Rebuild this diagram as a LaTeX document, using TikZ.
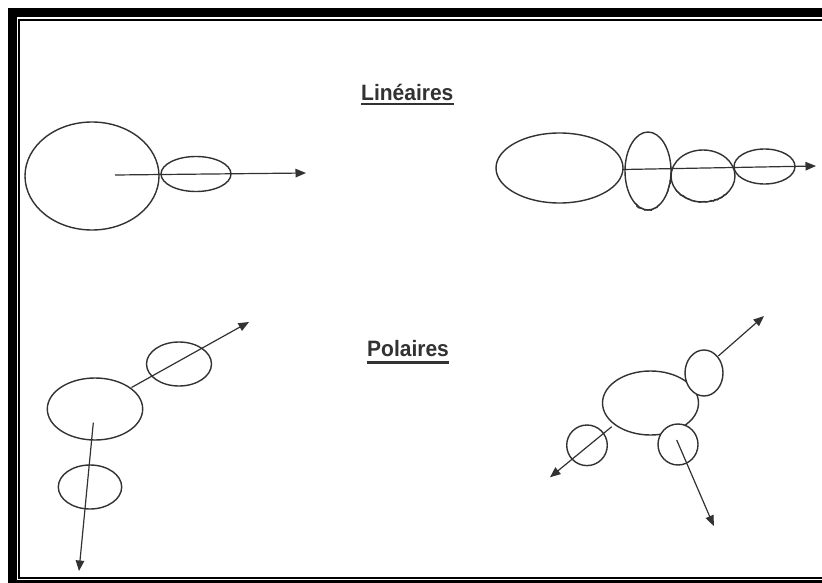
\documentclass[tikz,border=0pt]{standalone}
\usepackage{fontspec}
\setmainfont{Liberation Sans}
\usetikzlibrary{arrows.meta,decorations.pathmorphing}
\definecolor{ink}{RGB}{50,50,50}
\tikzset{
  shapeline/.style={draw=ink, line width=1.4pt},
  fillshape/.style={draw=ink, line width=1.4pt, fill=white},
  arrowline/.style={draw=ink, line width=1.2pt, -{Triangle[length=10.5pt,width=8.5pt]}},
  rough/.style={draw=ink, line width=1pt, decorate, decoration={random steps,segment length=2pt,amplitude=0.9pt}},
  title/.style={font=\bfseries\fontsize{21}{21}\selectfont, text=ink, inner sep=0pt, anchor=base west, yscale=1.06},
  uline/.style={draw=ink, line width=2.4pt},
  outerframe/.style={draw=black, line width=8.5pt},
  innerframe/.style={draw=black, line width=2pt},
}
\begin{document}
\begin{tikzpicture}[x=1pt,y=-1pt]
\useasboundingbox (0,0) rectangle (822,583);
\clip (0,0) rectangle (822,583);
\fill[white] (0,0) rectangle (822,583);
% frames
\draw[outerframe] (12.3,12.5) rectangle (840,584);
\draw[innerframe] (19,20) rectangle (840,578);
% titles
\node[title] (lin) at (361,100.5) {Linéaires};
\draw[uline] (lin.base west) ++(0,3.4) coordinate (l1) -- (l1 -| lin.base east);
\node[title] (pol) at (367,356.3) {Polaires};
\draw[uline] (pol.base west) ++(0,6) coordinate (p1) -- (p1 -| pol.base east);
% top-left linear
\draw[shapeline] (92,176) ellipse [x radius=67, y radius=54];
\draw[shapeline] (196,174) ellipse [x radius=35, y radius=17.5];
\coordinate (tla) at (115,175);
\coordinate (tlb) at (306,173);
\draw[arrowline] (tla) -- (tlb);
% top-right linear
\draw[shapeline] (559.5,168) ellipse [x radius=63.5, y radius=35];
\draw[shapeline] (648,171) ellipse [x radius=23, y radius=39];
\draw[shapeline] (703,176) ellipse [x radius=32, y radius=26];
\draw[shapeline] (764.5,166.5) ellipse [x radius=30.5, y radius=17.5];
\draw[rough] (648,171) ++(60:23 and 39) arc[start angle=60, end angle=125, x radius=23, y radius=39];
\draw[rough] (648,171) ++(-5:23 and 39) arc[start angle=-5, end angle=35, x radius=23, y radius=39];
\draw[rough] (703,176) ++(40:32 and 26) arc[start angle=40, end angle=150, x radius=32, y radius=26];
\coordinate (tra) at (623,169.5);
\coordinate (trb) at (816,166);
\draw[arrowline] (tra) -- (trb);
% bottom-left polar
\draw[shapeline] (95,409) ellipse [x radius=47.7, y radius=31];
\draw[shapeline] (179,364) ellipse [x radius=32.5, y radius=22];
\draw[shapeline] (90,487) ellipse [x radius=31.7, y radius=22];
\coordinate (bla) at (131.5,387.5);
\coordinate (blb) at (249,322);
\draw[arrowline] (bla) -- (blb);
\coordinate (blc) at (93.3,422.7);
\coordinate (bld) at (79,571);
\draw[arrowline] (blc) -- (bld);
% bottom-right polar
\draw[shapeline] (650.5,403) ellipse [x radius=48, y radius=32];
\draw[fillshape] (704,373) ellipse [x radius=19, y radius=23];
\draw[fillshape] (678,444.5) ellipse [x radius=20, y radius=20.5];
\draw[shapeline] (587,445.3) ellipse [x radius=20.3, y radius=20.3];
\coordinate (bra) at (718.3,356);
\coordinate (brb) at (764,316);
\draw[arrowline] (bra) -- (brb);
\coordinate (brc) at (611.7,426.7);
\coordinate (brd) at (550,477.3);
\draw[arrowline] (brc) -- (brd);
\coordinate (bre) at (676.7,440);
\coordinate (brf) at (713.8,526);
\draw[arrowline] (bre) -- (brf);
\end{tikzpicture}
\end{document}
